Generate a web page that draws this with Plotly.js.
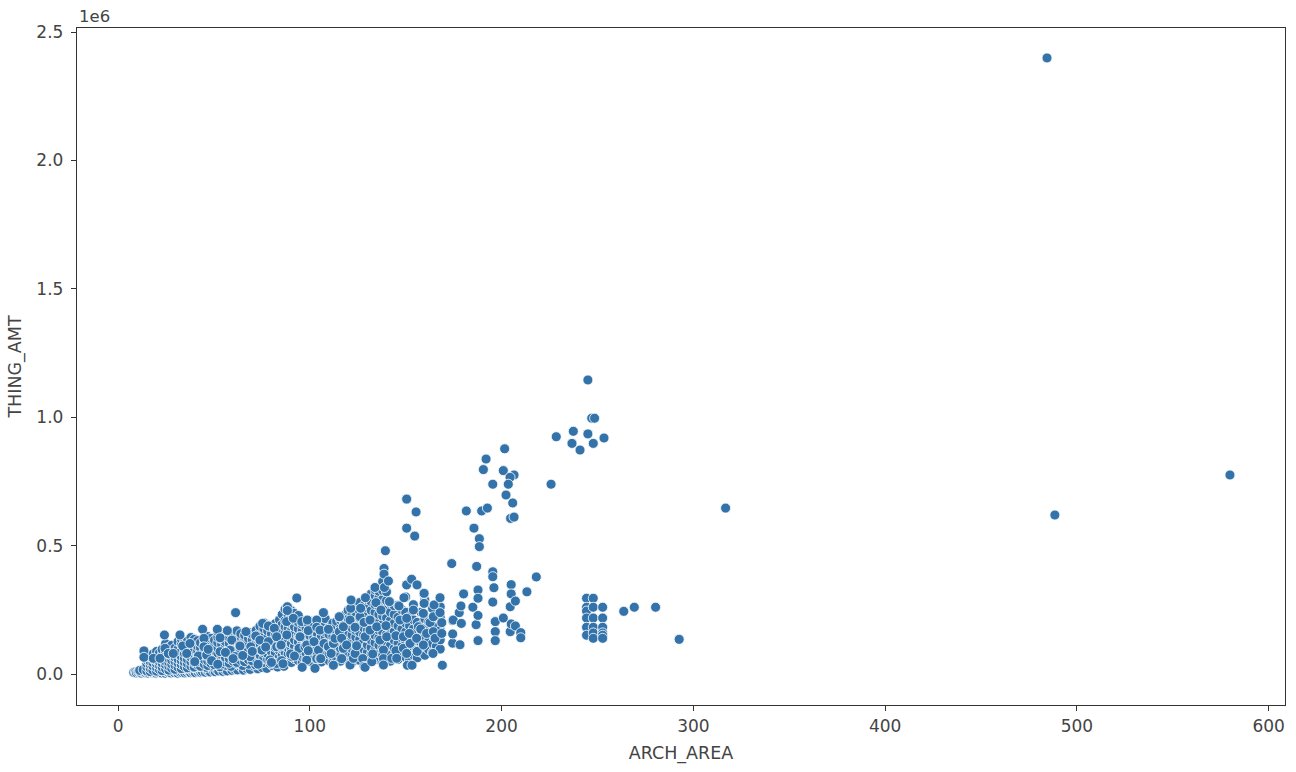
<!DOCTYPE html>
<html>
<head>
<meta charset="utf-8">
<script src="https://cdn.plot.ly/plotly-3.0.1.min.js"></script>
<style>html,body{margin:0;padding:0;background:#fff}#chart{width:1296px;height:772px}</style>
</head>
<body>
<div id="chart"></div>
<script>
// Low, crowded band along the bottom of the cloud (ARCH_AREA, THING_AMT in thousands)
const bandArea = [8.2,9.1,9.6,10.4,10.9,11.7,12.2,12.8,13.5,14.1,14.6,15.2,15.9,16.3,17.1,17.6,18.2,18.8,19.3,19.9,20.6,21.1,21.7,22.3,22.8,23.4,24.1,24.6,25.2,25.9,26.4,27,27.6,28.1,28.8,29.4,29.9,30.6,31.2,31.7,32.3,33,33.5,34.1,34.8,35.3,35.9,36.6,37.1,37.8,38.4,39,39.6,40.3,41,41.7,42.5,43.2,44,44.8,45.5,46.4,47.2,48.1,49,49.8,50.7,51.6,52.5,53.6,54.7,55.9,57,58.2,59.4,60.8,62.3,63.9,65.4,67.1,68.9,70.8,72.9,75.1,77.6,80.4,83.2,86.5,
  11.3,13.1,15.4,17.4,19.6,21.4,23.7,25.5,27.3,29.1,31,33.2,35,37.4,39.3,41.4,43.6,45.9,48.4,50.9,53.1,56.2,59,62,65,68.2,71.6,75.4,79.3,
  16.2,19.1,22.2,25,28.3,30.9,34.3,37.7,40.7,44.3,47.1,51.2,55.3,58.7,63.2,68,73.4];
const bandAmt = [6,8,4,7,10,5,3,8,6,11,4,7,3,9,5,12,4,6,10,3,7,13,5,8,4,11,6,3,9,14,5,7,4,12,8,5,15,6,3,10,7,13,5,9,4,16,6,11,8,5,14,7,10,5,17,8,12,6,9,19,7,14,10,8,21,11,9,16,12,23,10,15,12,26,14,18,16,28,15,21,18,31,20,25,22,33,27,30,
  14,17,20,16,23,26,19,28,24,21,30,27,22,33,25,29,35,26,31,37,28,34,30,40,33,38,36,44,41,
  31,27,36,33,41,38,45,40,49,43,52,47,55,50,60,57,66];

// Vertical stacks that fill the body of the cloud: one area, several amounts (thousands)
const stackArea = [15,16.8,18.2,20.1,21.6,23,24.8,26.5,28,29.7,31.3,33,34.6,36.2,38,39.7,41.5,43,45,46.8,48.5,50.3,52,54,56,58,60,62,64,66,68,70,72,74,76,78,80,82,84.2,85.6,87.1,88.7,90.4,92,94,96,98,100,102,104,106,108,110,112,114,116,118,120,122,124,126,128,130,132,134,136,138,140,142,144,146,148,150,152,154,156,158,160,162,164,166,168];
const stackAmt = [
  [12,28,41,55,72],[9,22,36,48,66],[14,31,44,58,78],[11,25,39,52,70,88],[17,33,47,63,82],[13,27,42,57,74,96],
  [20,36,49,68,86,118],[15,30,45,60,77,104],[22,38,54,71,92,112],[18,34,50,65,84,101],[26,43,58,79,97,126],[21,37,53,69,88,115,136],
  [29,46,62,81,99,121],[24,41,57,75,93,110,128],[31,48,66,85,104,124,142],[27,44,61,78,96,118,135],[35,52,70,90,108,130],[30,47,64,83,102,122],
  [38,56,74,92,114,134],[33,50,68,87,106,127,146],[41,59,77,97,117,139],[36,54,72,91,111,132],[44,62,81,101,122,143,165],[39,57,76,95,115,136],
  [47,65,85,105,126,149],[42,60,79,99,119,141,163],[50,69,89,110,130],[45,64,83,103,124,146,168],[53,72,93,114,134,157],[48,67,87,108,129,151],
  [56,75,96,118,139,162],[51,71,91,112,133,155],[59,79,100,122,144,170],[54,74,95,116,137,160,186],[62,83,105,127,150,177,199],[57,78,99,121,143,168,190],
  [65,87,110,133,157,183],[60,82,104,127,150,175,196],[55,68,91,115,139,163,188,211],[47,73,96,120,145,170,193,232],[62,85,109,134,159,184,208,252],[51,77,101,126,152,178,203,228,258],
  [45,70,94,119,144,169,195,221,246],[60,83,108,133,158,184,210,236],[53,76,100,125,150,176,202,228],[43,67,91,116,142,168,194],[58,82,106,131,156,181],[49,73,98,123,149,175,205],
  [40,65,89,114,140,166,192],[55,79,104,130,156,183],[47,71,96,122,148,174,200],[62,87,112,138,164,190,216],[52,77,102,128,154,180],[44,69,94,120,146,172,198],
  [59,84,110,136,162,188,205],[50,75,100,126,153,179,210],[67,92,118,145,171,197,228],[56,81,107,134,160,187,214,248],[45,72,98,125,152,179,206,233,270],[63,89,116,143,170,198,225,262],
  [53,80,107,135,163,191,219,245,278],[70,96,124,152,180,208,236,265],[58,85,113,141,169,198,227,258,290],[48,76,104,132,161,190,219,248,282,312],[65,93,122,151,180,209,240,270,305,328],[55,83,112,141,171,201,232,263,296,322],
  [42,72,102,132,163,194,226,258,291,325,360],[62,92,123,155,187,219,252,286,320],[50,80,111,143,175,208,241,275],[69,100,132,165,198,232,266],[57,88,120,153,187,221,268],[76,108,141,175,209,250],
  [65,97,130,164,198,240,300],[54,86,119,153,188,223],[74,107,141,176,211,270],[63,96,130,165,201],[85,118,153,189,240],[73,107,142,178,215,288],
  [95,130,166,203],[84,119,155,192,255],[108,144,181],[97,133,170,220,262]
];

// Individually read points of the cloud
const cloudArea = [13.5,13.5,18.4,21.9,24.5,24.2,26.2,28.8,32.3,33.7,35.8,37.5,41.9,44.1,44.8,44.8,46.2,48.8,51.8,53.2,53.2,57,58.4,59.3,61,61.3,63.3,63.6,66.7,68.8,69.2,71.8,74,74.6,75.4,75,78.4,78.4,79.2,81.5,82.7,82.7,82.7,84.8,85,85.3,87.9,88,88.3,88.3,90.5,91.4,93.2,94.4,94.6,94.9,95.8,97.5,98.4,99.2,
  98.7,98.4,99.2,99.2,102.2,102.7,103.6,103.6,103.6,104.5,105.3,105.3,105.7,107.1,107.4,109.7,109.7,111.1,112.3,112.3,113.1,115.2,115.4,115.4,116.6,116.6,117.5,117.5,119.2,121,121,121.3,121.5,122.7,123.6,123.6,124.4,126.2,126.5,127.6,128.3,128.3,128.8,128.8,129,131.4,131.4,132.3,132.8,134,134.5,134.9,136.6,137.1,138.4,138.4,138.4,138.7,138.7,138.9,139.4,139.7,140.1,141,141.5,142.7,144.9,144.9,145.3,146.5,147,148.8,148.8,149.1,150.5,150.5,150.5,150.5,150.9,151.9,152.3,153.1,153.3,154,155.7,155.7,155.9,156,156.6,157.8,159.2,159.2,159.5,159.6,159.6,160.9,162.7,164.2,164.4,164.4,164.8,165.3,167.9,167.9,168.8,168.8,169.1,
  40,47,52,56,60,65,70,73,77,80,86,90,92,96,
  174,174.5,174.5,174.8,177.9,178.3,178.8,179,180.2,185,186.7,187.7,187.7,187.7,187.7,195.4,195.4,195.4,196,196.7,196.7,196.7,200.9,204.5,204.5,205,205,205,207.2,207.2,210,210,213.2,218.1,
  244.3,244.3,244.3,244.3,244.3,244.3,247.8,247.8,247.8,247.8,247.8,247.8,252.7,252.7,252.7,252.7,252.7,252.7,
  181.6,185.6,188.4,188.4,187,174.5,150.5,155.4,150.5,154.7];
const cloudAmt = [90,65,61,61,100,152,80,80,152,109,80,119,70,174,139,106,74,52,174,141,87,169,93,132,68,239,113,109,165,68,106,148,132,93,197,93,187,126,55,178,145,106,41,109,113,52,204,152,262,247,68,217,296,100,145,145,204,106,54,197,
  210,113,91,169,126,22,210,182,60,93,171,60,60,239,119,174,106,80,119,34,139,223,223,165,60,139,184,100,113,210,35,256,288,61,182,80,110,223,256,60,201,30,145,26,297,171,210,48,78,337,278,184,132,249,93,60,35,411,389,337,480,188,145,362,282,61,149,91,61,265,210,145,100,297,347,217,80,681,34,158,119,369,34,249,139,91,347,88,184,175,236,113,312,314,275,158,200,80,165,223,269,139,297,239,200,158,34,
  48,96,38,84,60,72,88,38,105,45,40,78,70,26,
  430,208,120,210,239,114,265,197,312,260,192,327,295,228,130,398,379,280,336,204,165,130,218,165,262,348,312,195,284,187,161,141,320,378,
  295,260,245,218,182,151,295,260,218,182,160,139,260,218,182,160,151,139,
  635,568,527,496,419,156,568,631,681,537];

// Isolated points in the upper and right part of the chart
const topArea = [245,247,248.5,228.5,237.4,245,253.4,236.7,247.8,240.9,201.6,191.9,190.5,200.9,206.5,204.4,195.4,203.5,202.3,205.8,225.8,189.6,192.6,204.7,206.5,263.7,269.2,280.3,292.6,316.8,484.4,488.5,579.8];
const topAmt = [1145,996,996,924,945,935,919,898,898,872,877,837,796,792,775,766,739,739,697,666,739,635,646,606,611,244,260,260,135,646,2399,619,775];

const tickLabelsY = ["0.0","0.5","1.0","1.5","2.0","2.5"];
const tickValsY = [0,500000,1000000,1500000,2000000,2500000];
const tickValsX = [0,100,200,300,400,500,600];

const fontFam = '"DejaVu Sans",sans-serif';
const inkColor = '#444444';
const lineColor = '#333333';
const dotColor = '#3373a9';

const stackX = stackArea.flatMap((a, i) => stackAmt[i].map(() => a));
const stackY = stackAmt.flat();
const archArea = bandArea.concat(stackX, cloudArea, topArea);
const thingAmt = bandAmt.concat(stackY, cloudAmt, topAmt).map(v => v * 1000);

Plotly.newPlot('chart', [{
  type: 'scatter',
  mode: 'markers',
  x: archArea,
  y: thingAmt,
  marker: {size: 10, color: dotColor, line: {color: '#ffffff', width: 0.8}},
  hoverinfo: 'x+y'
}], {
  width: 1296,
  height: 772,
  margin: {l: 77, r: 11, t: 28, b: 67, pad: 0},
  paper_bgcolor: '#ffffff',
  plot_bgcolor: '#ffffff',
  showlegend: false,
  font: {family: fontFam, size: 17, color: inkColor},
  xaxis: {
    range: [-21.4, 608.5],
    tickvals: tickValsX,
    ticktext: tickValsX.map(String),
    ticks: 'outside', ticklen: 5, tickwidth: 1, tickcolor: lineColor,
    showgrid: false, zeroline: false,
    showline: true, mirror: true, linecolor: lineColor, linewidth: 1.2,
    tickfont: {family: fontFam, size: 17, color: inkColor},
    title: {text: 'ARCH_AREA', standoff: 12, font: {family: fontFam, size: 17.5, color: inkColor}}
  },
  yaxis: {
    range: [-120700, 2515600],
    tickvals: tickValsY,
    ticktext: tickLabelsY,
    ticks: 'outside', ticklen: 5, tickwidth: 1, tickcolor: lineColor,
    showgrid: false, zeroline: false,
    showline: true, mirror: true, linecolor: lineColor, linewidth: 1.2,
    ticklabelstandoff: 4,
    tickfont: {family: fontFam, size: 17, color: inkColor},
    title: {text: 'THING_AMT', standoff: 10, font: {family: fontFam, size: 17.5, color: inkColor}}
  },
  annotations: [{
    text: '1e6', xref: 'paper', yref: 'paper', x: 0, y: 1,
    xanchor: 'left', yanchor: 'bottom', showarrow: false, yshift: 0, xshift: 0,
    font: {family: fontFam, size: 16.5, color: inkColor}
  }]
}, {displayModeBar: false, staticPlot: true});
</script>
</body>
</html>
